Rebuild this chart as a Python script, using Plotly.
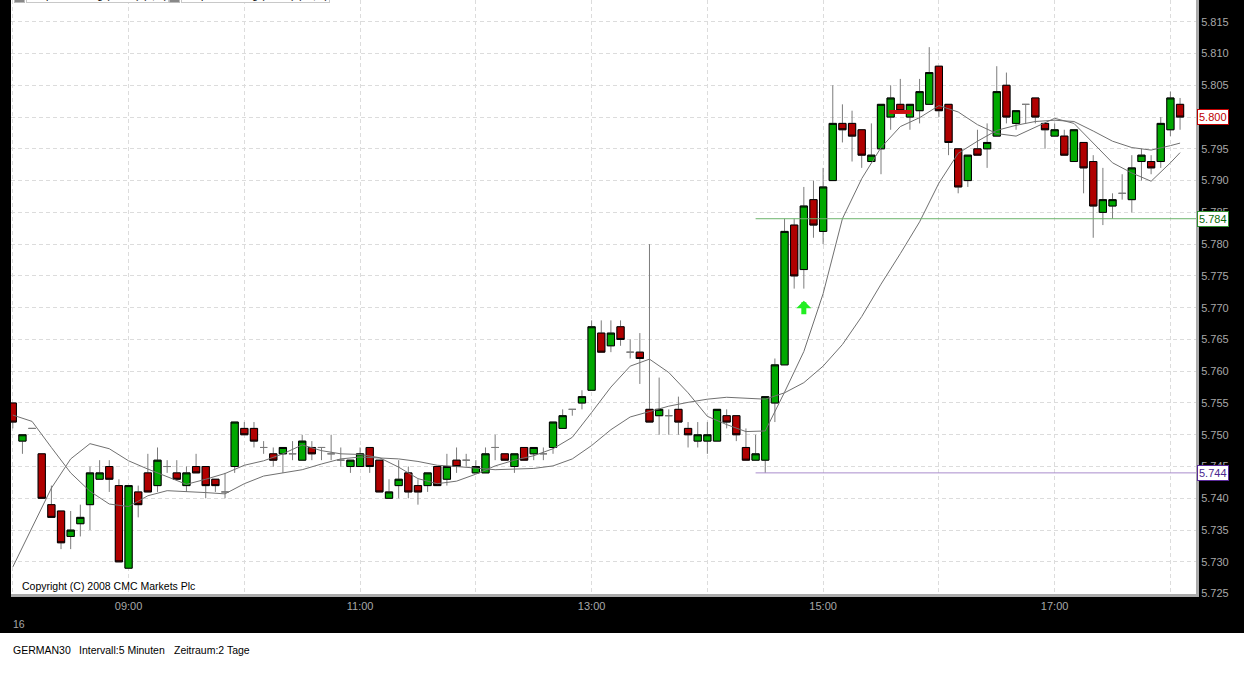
import pandas as pd
import plotly.graph_objects as go

SESSION = "2008-10-16"

# 5-minute bars, 08:00 .. 18:05
open_ = [
    5.755, 5.749, 5.751, 5.747, 5.739, 5.738, 5.734, 5.736, 5.739, 5.743,
    5.745, 5.742, 5.729, 5.741, 5.744, 5.742, 5.745, 5.744, 5.742, 5.745,
    5.745, 5.743, 5.741, 5.745, 5.751, 5.751, 5.748, 5.747, 5.747, 5.747,
    5.746, 5.748, 5.748, 5.747, 5.746, 5.745, 5.745, 5.748, 5.746, 5.740,
    5.742, 5.744, 5.742, 5.742, 5.745, 5.743, 5.746, 5.746, 5.744, 5.744,
    5.748, 5.747, 5.745, 5.748, 5.747, 5.747, 5.748, 5.751, 5.754, 5.755,
    5.757, 5.766, 5.764, 5.767, 5.763, 5.763, 5.754, 5.753, 5.753, 5.754,
    5.751, 5.749, 5.749, 5.749, 5.753, 5.753, 5.748, 5.746, 5.746, 5.755,
    5.761, 5.783, 5.776, 5.787, 5.782, 5.790, 5.799, 5.799, 5.798, 5.793,
    5.795, 5.800, 5.802, 5.800, 5.801, 5.802, 5.808, 5.802, 5.795, 5.790,
    5.795, 5.795, 5.797, 5.805, 5.799, 5.802, 5.803, 5.799, 5.797, 5.797,
    5.793, 5.796, 5.793, 5.785, 5.786, 5.788, 5.787, 5.793, 5.793, 5.793,
    5.798, 5.802,
]
high = [
    5.755, 5.750, 5.751, 5.747, 5.742, 5.738, 5.738, 5.739, 5.745, 5.746,
    5.746, 5.743, 5.742, 5.742, 5.747, 5.748, 5.746, 5.746, 5.745, 5.747,
    5.745, 5.743, 5.744, 5.752, 5.752, 5.752, 5.749, 5.748, 5.748, 5.749,
    5.750, 5.749, 5.748, 5.750, 5.748, 5.746, 5.748, 5.748, 5.746, 5.743,
    5.746, 5.745, 5.743, 5.744, 5.745, 5.747, 5.748, 5.747, 5.746, 5.748,
    5.750, 5.747, 5.747, 5.748, 5.748, 5.748, 5.752, 5.754, 5.754, 5.757,
    5.768, 5.768, 5.768, 5.768, 5.765, 5.766, 5.780, 5.759, 5.754, 5.756,
    5.752, 5.752, 5.752, 5.754, 5.754, 5.753, 5.751, 5.750, 5.756, 5.762,
    5.784, 5.784, 5.789, 5.790, 5.792, 5.805, 5.802, 5.801, 5.798, 5.799,
    5.802, 5.805, 5.806, 5.802, 5.806, 5.811, 5.808, 5.802, 5.795, 5.794,
    5.798, 5.799, 5.808, 5.807, 5.801, 5.802, 5.803, 5.799, 5.799, 5.798,
    5.798, 5.796, 5.794, 5.792, 5.788, 5.791, 5.794, 5.795, 5.794, 5.800,
    5.804, 5.803,
]
low = [
    5.751, 5.747, 5.751, 5.740, 5.737, 5.732, 5.732, 5.734, 5.735, 5.743,
    5.741, 5.730, 5.729, 5.737, 5.741, 5.741, 5.744, 5.743, 5.741, 5.744,
    5.740, 5.741, 5.740, 5.744, 5.750, 5.748, 5.747, 5.745, 5.744, 5.746,
    5.746, 5.746, 5.746, 5.746, 5.745, 5.744, 5.745, 5.744, 5.741, 5.740,
    5.740, 5.740, 5.739, 5.741, 5.742, 5.742, 5.744, 5.745, 5.744, 5.744,
    5.746, 5.746, 5.744, 5.746, 5.746, 5.746, 5.747, 5.751, 5.753, 5.754,
    5.757, 5.763, 5.763, 5.764, 5.762, 5.758, 5.752, 5.750, 5.750, 5.750,
    5.748, 5.748, 5.747, 5.749, 5.751, 5.749, 5.746, 5.746, 5.744, 5.752,
    5.761, 5.773, 5.773, 5.781, 5.780, 5.790, 5.796, 5.793, 5.792, 5.793,
    5.791, 5.798, 5.801, 5.798, 5.799, 5.802, 5.800, 5.794, 5.788, 5.789,
    5.794, 5.792, 5.797, 5.799, 5.798, 5.799, 5.799, 5.795, 5.797, 5.794,
    5.793, 5.788, 5.781, 5.783, 5.784, 5.787, 5.785, 5.790, 5.791, 5.792,
    5.797, 5.798,
]
close_ = [
    5.752, 5.750, 5.751, 5.740, 5.737, 5.733, 5.735, 5.737, 5.744, 5.744,
    5.743, 5.730, 5.742, 5.739, 5.741, 5.746, 5.745, 5.743, 5.744, 5.744,
    5.742, 5.742, 5.741, 5.752, 5.750, 5.749, 5.748, 5.746, 5.748, 5.747,
    5.749, 5.747, 5.748, 5.747, 5.746, 5.746, 5.747, 5.745, 5.741, 5.741,
    5.743, 5.741, 5.741, 5.744, 5.742, 5.745, 5.745, 5.746, 5.745, 5.747,
    5.748, 5.746, 5.747, 5.746, 5.748, 5.747, 5.752, 5.753, 5.754, 5.756,
    5.767, 5.763, 5.766, 5.765, 5.763, 5.762, 5.752, 5.754, 5.753, 5.752,
    5.750, 5.750, 5.750, 5.754, 5.752, 5.750, 5.746, 5.747, 5.756, 5.761,
    5.782, 5.775, 5.786, 5.783, 5.789, 5.799, 5.798, 5.797, 5.794, 5.794,
    5.802, 5.803, 5.801, 5.802, 5.804, 5.807, 5.801, 5.796, 5.789, 5.794,
    5.794, 5.796, 5.804, 5.800, 5.801, 5.802, 5.800, 5.798, 5.798, 5.794,
    5.798, 5.792, 5.786, 5.787, 5.787, 5.788, 5.792, 5.794, 5.792, 5.799,
    5.803, 5.800,
]
assert len(open_) == len(high) == len(low) == len(close_) == 122

bar_times = pd.date_range(f"{SESSION} 08:00", periods=len(close_), freq="5min")

# Simple moving averages of the close, sampled on every second bar and the last bar
ma_times = list(bar_times[::2]) + [bar_times[-1]]
sma5 = [
    5.7292, 5.7355, 5.7416, 5.7462, 5.7486, 5.7478, 5.7459, 5.7446, 5.7434, 5.7422,
    5.7430, 5.7439, 5.7452, 5.7459, 5.7470, 5.7484, 5.7475, 5.7470, 5.7469, 5.7464,
    5.7449, 5.7431, 5.7423, 5.7427, 5.7438, 5.7451, 5.7460, 5.7467, 5.7478, 5.7496,
    5.7535, 5.7575, 5.7608, 5.7619, 5.7598, 5.7566, 5.7529, 5.7516, 5.7505, 5.7506,
    5.7567, 5.7631, 5.7722, 5.7840, 5.7903, 5.7952, 5.7985, 5.7999, 5.8018, 5.8008,
    5.7988, 5.7974, 5.7970, 5.7984, 5.7998, 5.7990, 5.7959, 5.7928, 5.7912, 5.7899,
    5.7928, 5.7944,
]
sma20 = [
    5.7531, 5.7521, 5.7480, 5.7440, 5.7411, 5.7391, 5.7387, 5.7404, 5.7412, 5.7411,
    5.7409, 5.7407, 5.7423, 5.7435, 5.7440, 5.7445, 5.7454, 5.7462, 5.7465, 5.7463,
    5.7462, 5.7458, 5.7452, 5.7450, 5.7448, 5.7445, 5.7446, 5.7447, 5.7451, 5.7462,
    5.7483, 5.7508, 5.7528, 5.7537, 5.7545, 5.7551, 5.7556, 5.7559, 5.7558, 5.7556,
    5.7566, 5.7582, 5.7608, 5.7642, 5.7686, 5.7737, 5.7785, 5.7835, 5.7896, 5.7943,
    5.7962, 5.7979, 5.7987, 5.7993, 5.7995, 5.7993, 5.7978, 5.7962, 5.7952, 5.7948,
    5.7955, 5.7959,
]

# Horizontal price levels and signals
level_hi = 5.784
level_lo = 5.744
level_from_bar = 77
buy_bar, buy_tip_price = 82, 5.7711
sell_bar, sell_price = 92, 5.8008

x_range = [f"{SESSION} 07:59:04", f"{SESSION} 18:13:16"]
y_range = [5.72494, 5.81842]

hour_ticks = pd.date_range(f"{SESSION} 08:00", f"{SESSION} 18:00", freq="1h")
hour_text = [t.strftime("%H:%M") if t.hour % 2 == 1 else "" for t in hour_ticks]

W, H = 1244, 675
ML, MR, MT, MB = 11, 48, 0, 81
PW, PH = W - ML - MR, H - MT - MB


def px_x(px):
    return (px - ML) / PW


def px_y(py):
    return (MT + PH - py) / PH


FONT = "Liberation Sans, Arial, sans-serif"
GREEN = "#00a800"
RED = "#b00000"
WICK = "#7c7c7c"
AXIS_TXT = "#a8a8a8"
GRID = "#dcdcdc"

fig = go.Figure()

# wicks (and doji crosses) in grey
fig.add_trace(go.Candlestick(
    x=bar_times, open=open_, high=high, low=low, close=close_,
    increasing=dict(line=dict(color=WICK, width=1), fillcolor="rgba(0,0,0,0)"),
    decreasing=dict(line=dict(color=WICK, width=1), fillcolor="rgba(0,0,0,0)"),
    whiskerwidth=0, hoverinfo="skip", showlegend=False,
))

# filled bodies with black outline (bars where open != close)
body_idx = [i for i in range(len(close_)) if abs(open_[i] - close_[i]) > 1e-9]
fig.add_trace(go.Candlestick(
    x=[bar_times[i] for i in body_idx],
    open=[open_[i] for i in body_idx],
    close=[close_[i] for i in body_idx],
    high=[max(open_[i], close_[i]) for i in body_idx],
    low=[min(open_[i], close_[i]) for i in body_idx],
    increasing=dict(line=dict(color="#000000", width=1), fillcolor=GREEN),
    decreasing=dict(line=dict(color="#000000", width=1), fillcolor=RED),
    whiskerwidth=0, hoverinfo="skip", showlegend=False,
))

for series in (sma5, sma20):
    fig.add_trace(go.Scatter(
        x=ma_times, y=series, mode="lines",
        line=dict(color="#707070", width=1), hoverinfo="skip", showlegend=False,
    ))

# support / resistance levels
fig.add_trace(go.Scatter(
    x=[bar_times[level_from_bar], x_range[1]], y=[level_hi, level_hi], mode="lines",
    line=dict(color="#6cb46c", width=1), hoverinfo="skip", showlegend=False,
))
fig.add_trace(go.Scatter(
    x=[bar_times[level_from_bar], x_range[1]], y=[level_lo, level_lo], mode="lines",
    line=dict(color="#a98ccc", width=1), hoverinfo="skip", showlegend=False,
))

# sell signal
fig.add_trace(go.Scatter(
    x=[bar_times[sell_bar]], y=[sell_price], mode="markers",
    marker=dict(symbol="line-ew", size=16, line=dict(color="#cc1010", width=4)),
    hoverinfo="skip", showlegend=False,
))

annotations = []

# buy signal: block arrow pointing up, tip at the signal price
annotations.append(dict(
    xref="x", yref="y", x=bar_times[buy_bar], y=buy_tip_price, text="",
    showarrow=True, ax=0, ay=15, axref="pixel", ayref="pixel",
    arrowhead=1, arrowsize=0.5, arrowwidth=5, arrowcolor="#22ee22",
))


def value_tag(value, text_color, border_color):
    annotations.append(dict(
        xref="paper", yref="y", x=1, y=value, xanchor="left", yanchor="middle",
        xshift=1, text=f"{value:.3f}", showarrow=False,
        font=dict(family=FONT, size=11, color=text_color),
        bgcolor="#ffffff", bordercolor=border_color, borderwidth=1, borderpad=1,
    ))


value_tag(close_[-1], "#c00000", "#c00000")
value_tag(level_hi, "#0b6b0b", "#2f8f2f")
value_tag(level_lo, "#4a2790", "#5a2a9a")

# indicator captions along the top edge
for left, icon_left, caption in ((26, 14, "Simple Mov Avg (Close) (5, 0)"),
                                 (181, 169, "Simple Mov Avg (Close) (20, 0)")):
    annotations.append(dict(
        xref="paper", yref="paper", x=px_x(icon_left), y=px_y(3.5),
        xanchor="left", yanchor="bottom", text=" ", showarrow=False,
        width=9, height=10, bgcolor="#888888", bordercolor="#bbbbbb", borderwidth=1,
        borderpad=0, font=dict(size=8),
    ))
    annotations.append(dict(
        xref="paper", yref="paper", x=px_x(left), y=px_y(3.5),
        xanchor="left", yanchor="bottom", text=caption, showarrow=False,
        font=dict(family=FONT, size=10.5, color="#000000"),
        bgcolor="#ffffff", bordercolor="#c8c8c8", borderwidth=1, borderpad=1,
    ))

annotations.append(dict(
    xref="paper", yref="paper", x=px_x(20), y=px_y(586), xanchor="left", yanchor="middle",
    text="Copyright (C) 2008 CMC Markets Plc", showarrow=False,
    font=dict(family=FONT, size=10.5, color="#000000"),
))
annotations.append(dict(
    xref="paper", yref="paper", x=px_x(11), y=px_y(624), xanchor="left", yanchor="middle",
    text="16", showarrow=False, font=dict(family=FONT, size=10.5, color=AXIS_TXT),
))
for left, txt in ((11, "GERMAN30"), (76.5, "Intervall:5 Minuten"), (172, "Zeitraum:2 Tage")):
    annotations.append(dict(
        xref="paper", yref="paper", x=px_x(left), y=px_y(649.5), xanchor="left",
        yanchor="middle", text=txt, showarrow=False,
        font=dict(family=FONT, size=10.5, color="#000000"),
    ))

shapes = [
    # white strip under the chart frame
    dict(type="rect", xref="paper", yref="paper", x0=px_x(-5), x1=px_x(W + 5),
         y0=px_y(633), y1=px_y(H + 5), fillcolor="#ffffff", line=dict(width=0),
         layer="below"),
]

fig.update_layout(
    width=W, height=H,
    margin=dict(l=ML, r=MR, t=MT, b=MB, pad=0),
    paper_bgcolor="#000000", plot_bgcolor="#ffffff",
    boxgap=0.25, boxgroupgap=0,
    font=dict(family=FONT, size=11, color=AXIS_TXT),
    showlegend=False,
    annotations=annotations, shapes=shapes,
    xaxis=dict(
        type="date", range=x_range, rangeslider=dict(visible=False),
        tickvals=hour_ticks, ticktext=hour_text, ticks="",
        tickfont=dict(family=FONT, size=11, color=AXIS_TXT),
        showgrid=True, gridcolor=GRID, griddash="4px,3px", gridwidth=1,
        showline=True, linecolor="#aaaaaa", linewidth=3, zeroline=False,
    ),
    yaxis=dict(
        side="right", range=y_range, tick0=5.725, dtick=0.005, tickformat=".3f",
        ticks="", tickfont=dict(family=FONT, size=11, color=AXIS_TXT),
        showgrid=True, gridcolor=GRID, griddash="4px,3px", gridwidth=1,
        showline=True, linecolor="#aaaaaa", linewidth=3, zeroline=False,
    ),
)

fig.write_html("out.html", include_plotlyjs=True, full_html=True)
